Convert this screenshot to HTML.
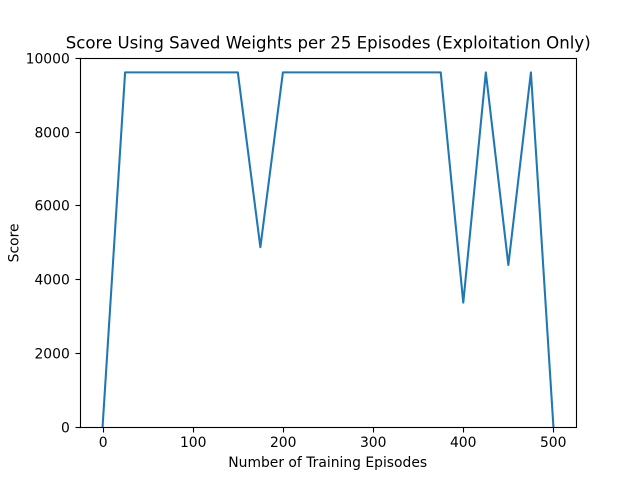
<!DOCTYPE html>
<html>
<head>
<meta charset="utf-8">
<style>
html,body{margin:0;padding:0;background:#fff;width:640px;height:480px;overflow:hidden}
svg{display:block}
text{font-family:"DejaVu Sans",sans-serif;fill:#000}
</style>
</head>
<body>
<svg id="chart" width="640" height="480" viewBox="0 0 640 480" xmlns="http://www.w3.org/2000/svg">
<rect x="0" y="0" width="640" height="480" fill="#fff"/>
<text x="328.2" y="48.7" font-size="16.6" text-anchor="middle">Score Using Saved Weights per 25 Episodes (Exploitation Only)</text>
<text x="327.7" y="467" font-size="13.89" text-anchor="middle">Number of Training Episodes</text>
<text x="0" y="0" font-size="13.89" text-anchor="middle" transform="translate(18.5 242.9) rotate(-90)">Score</text>
<g id="marks"></g>
<rect x="80.5" y="58.5" width="496" height="369" fill="none" stroke="#000" stroke-width="1.11"/>
<g id="ticks"></g>
</svg>
<script>
const episodes = [0, 25, 50, 75, 100, 125, 150, 175, 200, 225, 250, 275, 300, 325, 350, 375, 400, 425, 450, 475, 500];
const scores = [0, 9600, 9600, 9600, 9600, 9600, 9600, 4870, 9600, 9600, 9600, 9600, 9600, 9600, 9600, 9600, 3370, 9600, 4390, 9600, 0];
const xTickLabels = [0, 100, 200, 300, 400, 500];
const yTickLabels = [0, 2000, 4000, 6000, 8000, 10000];
const xDomain = [-25, 525];
const yDomain = [0, 10000];

const NS = 'http://www.w3.org/2000/svg';
const xScale = v => 80 + (v - xDomain[0]) / (xDomain[1] - xDomain[0]) * 496;
const yScale = v => 427.2 - (v - yDomain[0]) / (yDomain[1] - yDomain[0]) * 369.6;
const snap = v => Math.round(v) + 0.5;

const marks = document.getElementById('marks');
const ticks = document.getElementById('ticks');

const line = document.createElementNS(NS, 'polyline');


line.setAttribute('points', episodes.map((e, i) => xScale(e).toFixed(2) + ',' + yScale(scores[i]).toFixed(2)).join(' '));
line.setAttribute('fill', 'none');
line.setAttribute('stroke', '#1f77b4');
line.setAttribute('stroke-width', '2.08');
line.setAttribute('stroke-linejoin', 'round');
line.setAttribute('stroke-linecap', 'butt');
marks.appendChild(line);

xTickLabels.forEach(v => {
  const x = snap(xScale(v));
  const t = document.createElementNS(NS, 'line');
  
  
  t.setAttribute('x1', x);
  t.setAttribute('x2', x);
  t.setAttribute('y1', 427.5);
  t.setAttribute('y2', 432.5);
  t.setAttribute('stroke', '#000');
  t.setAttribute('stroke-width', '1.11');
  ticks.appendChild(t);
  const l = document.createElementNS(NS, 'text');
  
  
  l.setAttribute('x', x - 0.3);
  l.setAttribute('y', 447.2);
  l.setAttribute('font-size', '13.89');
  l.setAttribute('text-anchor', 'middle');
  l.textContent = v;
  ticks.appendChild(l);
});

yTickLabels.forEach(v => {
  const y = snap(yScale(v));
  const t = document.createElementNS(NS, 'line');
  
  
  t.setAttribute('x1', 75.5);
  t.setAttribute('x2', 80.5);
  t.setAttribute('y1', y);
  t.setAttribute('y2', y);
  t.setAttribute('stroke', '#000');
  t.setAttribute('stroke-width', '1.11');
  ticks.appendChild(t);
  const l = document.createElementNS(NS, 'text');
  
  
  l.setAttribute('x', 69.8);
  l.setAttribute('y', y + 4.8);
  l.setAttribute('font-size', '13.89');
  l.setAttribute('text-anchor', 'end');
  l.textContent = v;
  ticks.appendChild(l);
});
</script>
</body>
</html>
